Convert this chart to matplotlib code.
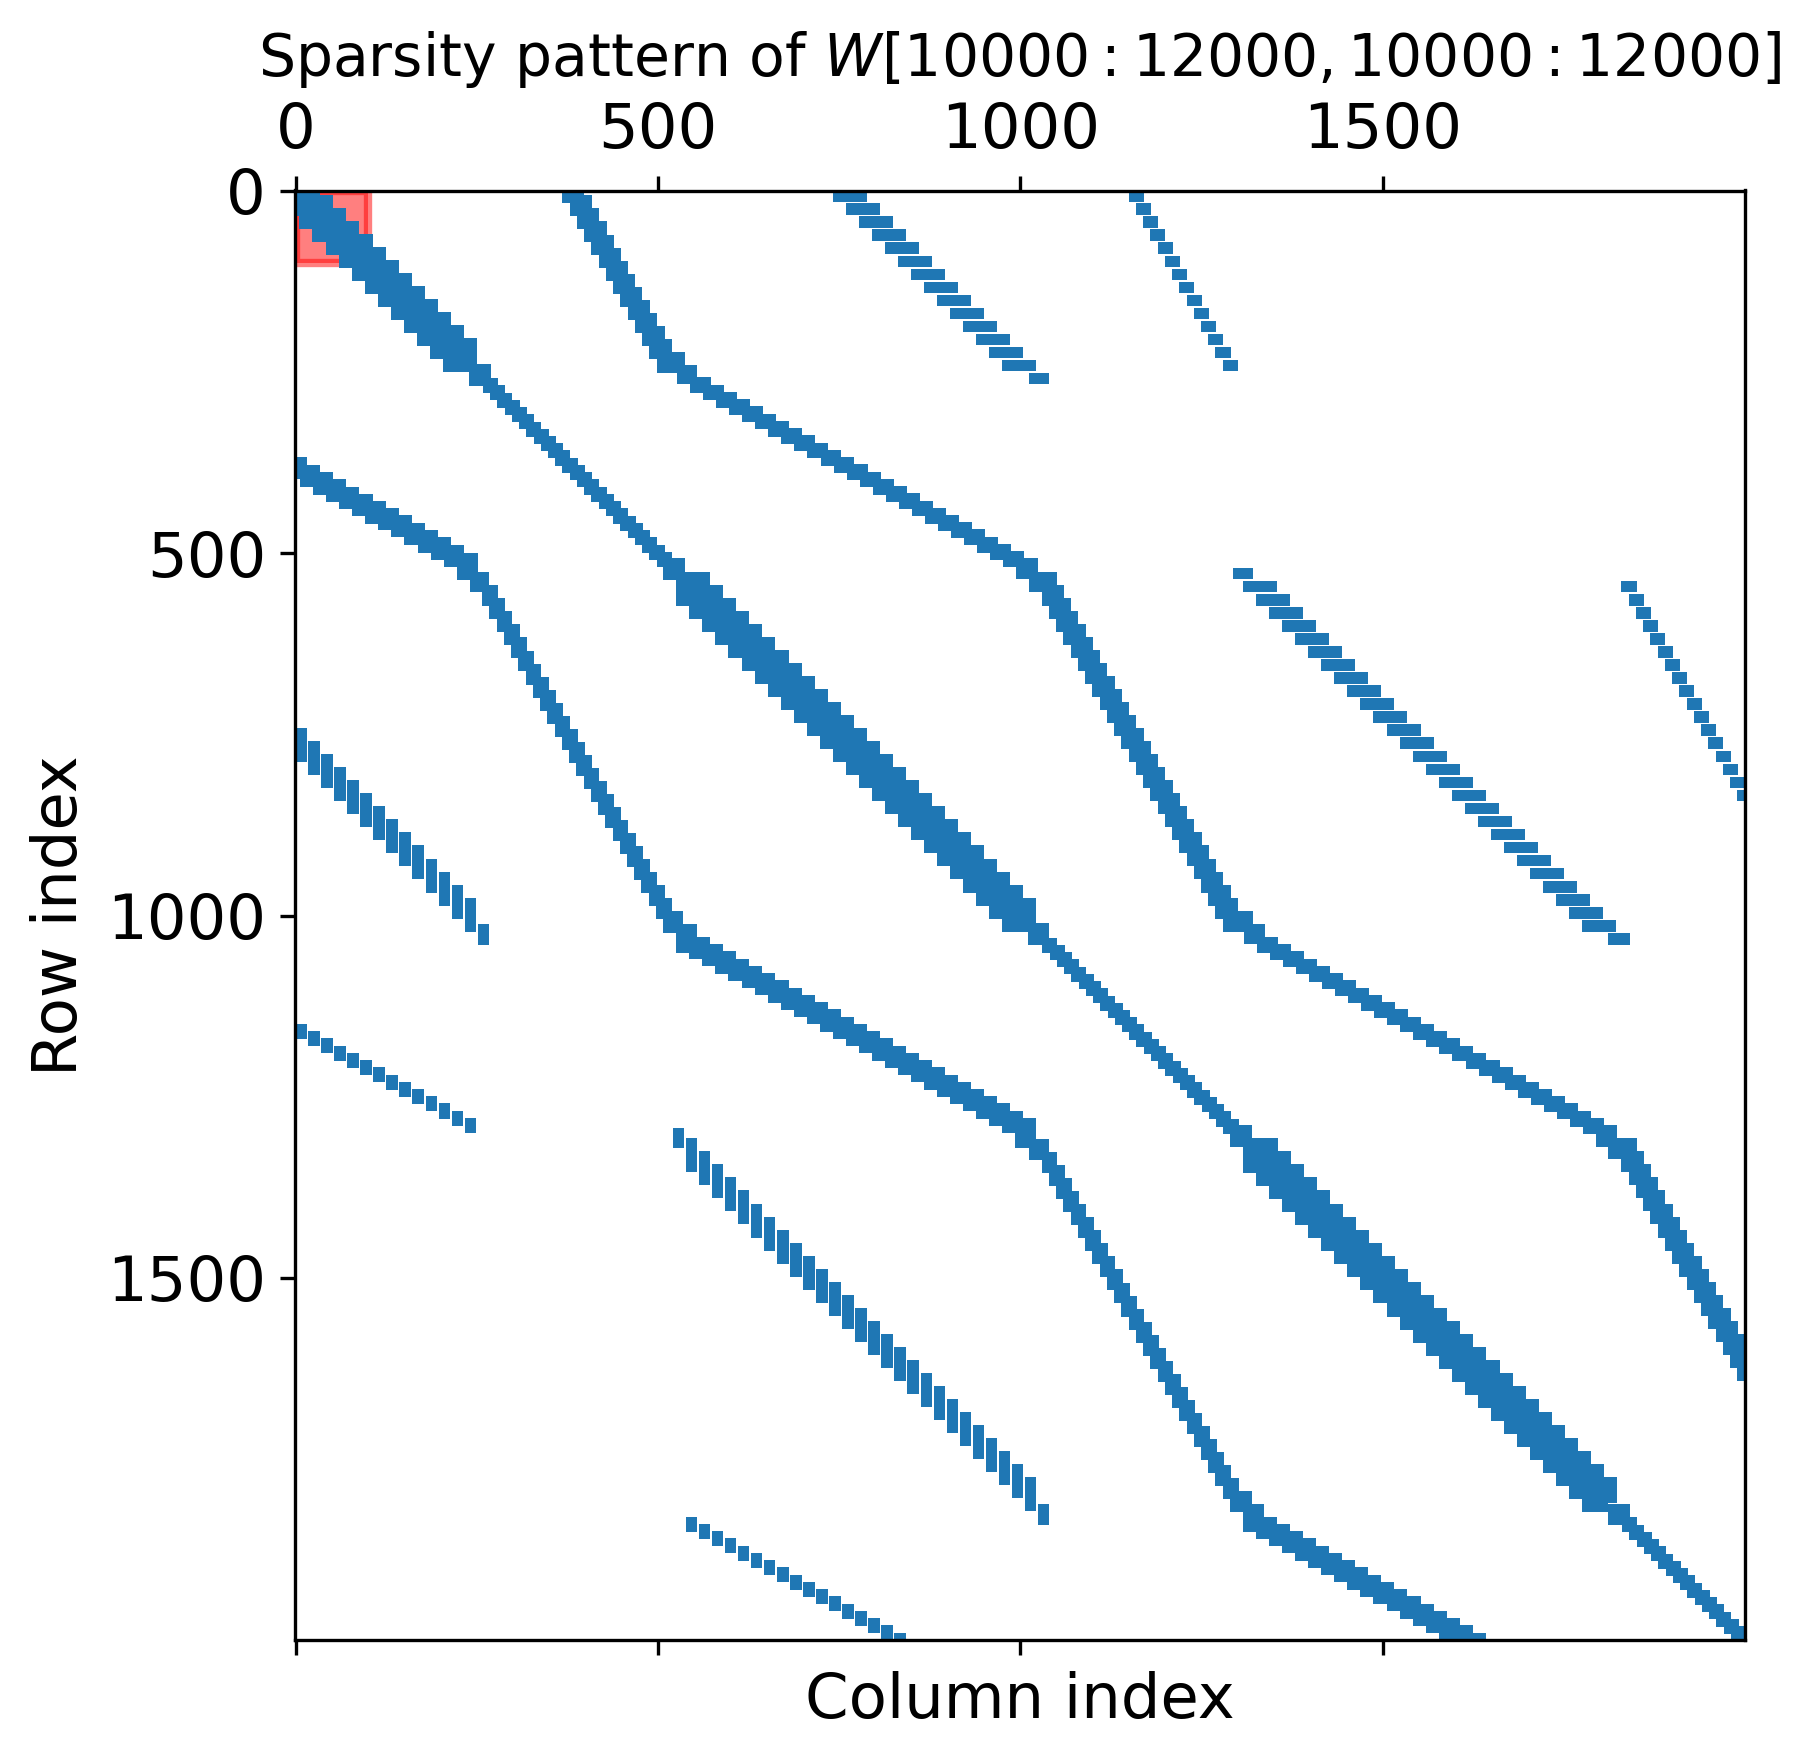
import matplotlib
matplotlib.use("Agg")
import matplotlib.pyplot as plt
import numpy as np
from matplotlib.patches import Rectangle

N = 2000

# --------------------------
# MAIN DIAGONAL (upper half, mirrored later)
# --------------------------
main_start = [0, 8, 26, 44, 62, 80, 98, 116, 134, 152, 170, 188, 206, 224,
              242,
              261, 271, 281, 291, 301, 311, 321, 331, 341, 351, 361, 371, 381, 391, 401, 411, 421, 431, 441, 451, 461, 471, 481, 491, 501,
              510,
              528, 546, 564, 582, 600, 618, 636, 654, 672, 690, 708, 726, 744, 762, 780, 798, 816, 834, 852, 870, 888, 906, 924, 942, 960, 978, 996,
              1013,
              1033, 1043, 1053, 1063, 1073, 1083, 1093, 1103, 1113, 1123, 1133, 1143, 1153, 1163, 1173, 1183, 1193, 1203, 1213, 1223, 1233, 1243, 1253, 1263, 1273, 1283,
              1292,
              1310, 1328, 1346, 1364, 1382, 1400, 1418, 1436, 1454, 1472, 1490, 1508, 1526, 1544, 1562, 1580, 1598, 1616, 1634, 1652, 1670, 1688, 1706, 1724, 1742, 1760, 1778, 1796,
              1814,
              1833, 1843, 1853, 1863, 1873, 1883, 1893, 1903, 1913, 1923, 1933, 1943, 1953, 1963, 1973, 1983, 1993]
main_stop = [8, 26, 44, 62, 80, 98, 116, 134, 152, 170, 188, 206, 224, 236,
             266,
             271, 281, 291, 301, 311, 321, 331, 341, 351, 361, 371, 381, 391, 401, 411, 421, 431, 441, 451, 461, 471, 481, 491, 501, 511,
             534,
             546, 564, 582, 600, 618, 636, 654, 672, 690, 708, 726, 744, 762, 780, 798, 816, 834, 852, 870, 888, 906, 924, 942, 960, 978, 996, 1007,
             1037,
             1043, 1053, 1063, 1073, 1083, 1093, 1103, 1113, 1123, 1133, 1143, 1153, 1163, 1173, 1183, 1193, 1203, 1213, 1223, 1233, 1243, 1253, 1263, 1273, 1283, 1293,
             1316,
             1328, 1346, 1364, 1382, 1400, 1418, 1436, 1454, 1472, 1490, 1508, 1526, 1544, 1562, 1580, 1598, 1616, 1634, 1652, 1670, 1688, 1706, 1724, 1742, 1760, 1778, 1796, 1808,
             1838,
             1843, 1853, 1863, 1873, 1883, 1893, 1903, 1913, 1923, 1933, 1943, 1953, 1963, 1973, 1983, 1993, 2000]
main_end = [31, 49, 67, 85, 103, 121, 139, 157, 175, 193, 211, 229, 247, 247,
            266,
            276, 286, 296, 306, 316, 326, 336, 346, 356, 366, 376, 386, 396, 406, 416, 426, 436, 446, 456, 466, 476, 486, 496, 506, 516,
            534,
            569, 587, 605, 623, 641, 659, 677, 695, 713, 731, 749, 767, 785, 803, 821, 839, 857, 875, 893, 911, 929, 947, 965, 983, 1001, 1019, 1019,
            1037,
            1048, 1058, 1068, 1078, 1088, 1098, 1108, 1118, 1128, 1138, 1148, 1158, 1168, 1178, 1188, 1198, 1208, 1218, 1228, 1238, 1248, 1258, 1268, 1278, 1288, 1298,
            1316,
            1352, 1370, 1388, 1406, 1424, 1442, 1460, 1478, 1496, 1514, 1532, 1550, 1568, 1586, 1604, 1622, 1640, 1658, 1676, 1694, 1712, 1730, 1748, 1766, 1784, 1802, 1820, 1820,
            1838,
            1848, 1858, 1868, 1878, 1888, 1898, 1908, 1918, 1928, 1938, 1948, 1958, 1968, 1978, 1988, 1998, 2000]

# --------------------------
# LONG CURVE ABOVE THE DIAGONAL
# --------------------------
steep1_cols = [370, 381, 391, 401, 411, 421, 431, 440, 450, 461, 471, 481, 491]
steep1_rows = [0, 9, 27, 45, 63, 81, 99, 117, 135, 153, 171, 189, 207]
steep1_h = [13, 22, 22, 22, 22, 22, 22, 22, 22, 22, 22, 22, 22]

shallow1_cols = [547, 565, 583, 601, 619, 637, 655, 673, 691, 709, 727, 745, 763, 781, 799, 817, 835, 853, 871, 889, 907, 925, 943, 961, 979]
shallow1_rows = [260, 270, 280, 290, 300, 310, 320, 330, 340, 350, 360, 370, 380, 390, 400, 410, 420, 430, 440, 450, 460, 470, 480, 490, 500]

steep2_cols = [1032, 1042, 1052, 1062, 1072, 1082, 1092, 1102, 1112, 1122, 1132, 1142, 1152, 1162, 1172, 1182, 1192, 1202, 1212, 1222, 1232, 1242, 1252, 1262, 1272]
steep2_rows = [546, 564, 582, 600, 618, 636, 654, 672, 690, 708, 726, 744, 762, 780, 798, 816, 834, 852, 870, 888, 906, 924, 942, 960, 978]

shallow2_cols = [1329, 1347, 1365, 1383, 1401, 1419, 1437, 1455, 1473, 1491, 1509, 1527, 1545, 1563, 1581, 1599, 1617, 1635, 1653, 1671, 1689, 1707, 1725, 1743, 1761, 1779]
shallow2_rows = [1032, 1042, 1052, 1062, 1072, 1082, 1092, 1102, 1112, 1122, 1132, 1142, 1152, 1162, 1172, 1182, 1192, 1202, 1212, 1222, 1232, 1242, 1252, 1262, 1272, 1282]

steep3_cols = [1832, 1842, 1852, 1862, 1872, 1882, 1892, 1902, 1912, 1922, 1932, 1942, 1952, 1962, 1972, 1982, 1992]
steep3_rows = [1328, 1346, 1364, 1382, 1400, 1418, 1436, 1454, 1472, 1490, 1508, 1526, 1544, 1562, 1580, 1598, 1616]

# blocks where the curve changes slope
joint_cols = [502, 529, 997, 1014, 1282, 1311, 1797, 1814]
joint_rows = [225, 243, 510, 528, 996, 1014, 1292, 1310]
joint_w = [32, 22, 24, 34, 36, 23, 23, 34]
joint_h = [23, 21, 22, 23, 23, 22, 24, 23]

# --------------------------
# SEPARATE DOTTED BANDS
# --------------------------
band_c_cols = [744, 762, 780, 798, 816, 834, 852, 870, 888, 906, 924, 942, 960, 978, 1014]
band_c_rows = [2, 20, 38, 56, 74, 92, 110, 128, 146, 164, 182, 200, 218, 236, 254]
band_c_w = [41, 41, 41, 41, 41, 41, 41, 41, 41, 41, 41, 41, 41, 41, 23]

band_d_cols = [1152, 1162, 1172, 1182, 1192, 1202, 1212, 1222, 1232, 1242, 1252, 1262, 1272, 1282]
band_d_rows = [2, 20, 38, 56, 74, 92, 110, 128, 146, 164, 182, 200, 218, 236]

band_e_cols = [1296, 1310, 1328, 1346, 1364, 1382, 1400, 1418, 1436, 1454, 1472, 1490, 1508, 1526, 1544, 1562, 1580, 1598, 1616, 1634, 1652, 1670, 1688, 1706, 1724, 1742, 1760, 1778, 1814]
band_e_rows = [523, 541, 559, 577, 595, 613, 631, 649, 667, 685, 703, 721, 739, 757, 775, 793, 811, 829, 847, 865, 883, 901, 919, 937, 955, 973, 991, 1009, 1027]
band_e_w = [22, 41, 41, 41, 41, 41, 41, 41, 41, 41, 41, 41, 41, 41, 41, 41, 41, 41, 41, 41, 41, 41, 41, 41, 41, 41, 41, 41, 24]

band_f_cols = [1832, 1842, 1852, 1862, 1872, 1882, 1892, 1902, 1912, 1922, 1932, 1942, 1952, 1962, 1972, 1982, 1992]
band_f_rows = [541, 559, 577, 595, 613, 631, 649, 667, 685, 703, 721, 739, 757, 775, 793, 811, 829]

x_ticks = [0, 500, 1000, 1500]
y_ticks = [0, 500, 1000, 1500]

# --------------------------
# BUILD THE MATRIX
# --------------------------
W = np.zeros((N, N), dtype=bool)

for start, stop, end in zip(main_start, main_stop, main_end):
    W[start:stop, start:end] = True

for col, row, h in zip(steep1_cols, steep1_rows, steep1_h):
    W[row:row + h, col:col + 25] = True
for col, row in zip(shallow1_cols, shallow1_rows):
    W[row:row + 16, col:col + 23] = True
for col, row in zip(steep2_cols, steep2_rows):
    W[row:row + 23, col:col + 25] = True
for col, row in zip(shallow2_cols, shallow2_rows):
    W[row:row + 16, col:col + 23] = True
for col, row in zip(steep3_cols, steep3_rows):
    W[row:row + 23, col:col + 25] = True
for col, row, w, h in zip(joint_cols, joint_rows, joint_w, joint_h):
    W[row:row + h, col:col + w] = True

for col, row, w in zip(band_c_cols, band_c_rows, band_c_w):
    W[row:row + 10, col:col + w] = True
for col, row in zip(band_d_cols, band_d_rows):
    W[row:row + 10, col:col + 15] = True
for col, row, w in zip(band_e_cols, band_e_rows, band_e_w):
    W[row:row + 10, col:col + w] = True
for col, row in zip(band_f_cols, band_f_rows):
    W[row:row + 10, col:col + 15] = True

W = W | W.T  # the pattern is symmetric

# --------------------------
# PLOT
# --------------------------
plt.rcParams['font.size'] = 15

fig = plt.figure(figsize=(1810 / 300, 1762 / 300), dpi=300)
ax = fig.add_axes([294.5 / 1810, (1762 - 1640) / 1762, 1451 / 1810, 1449.5 / 1762])

ax.spy(W, markersize=1.2, markeredgewidth=0)
ax.add_patch(Rectangle((0, 0), 100, 100, color='red', alpha=0.5, linewidth=2))

ax.set_xticks(x_ticks)
ax.set_yticks(y_ticks)
ax.set_title("Sparsity pattern of $W[10000:12000, 10000:12000]$", fontsize=14)
ax.set_xlabel("Column index")
ax.set_ylabel("Row index")

fig.savefig("out.png", dpi=300)
